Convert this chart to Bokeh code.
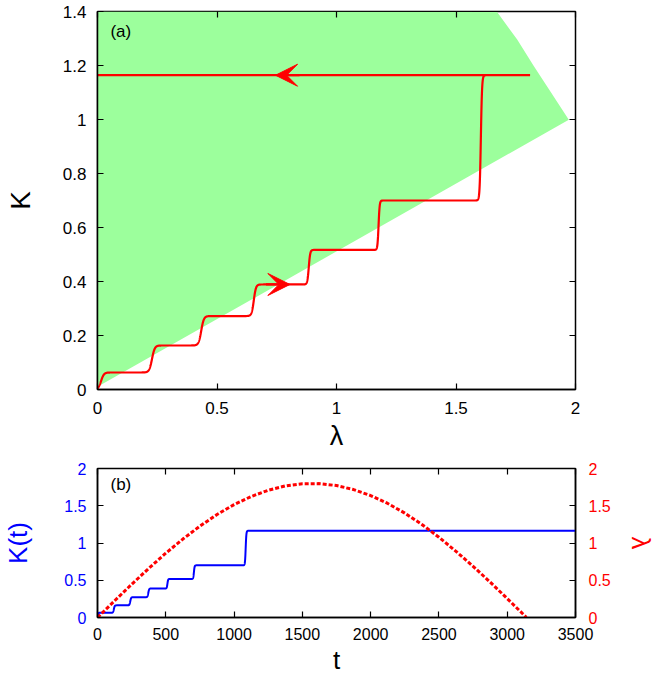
import math
import numpy as np
from bokeh.plotting import figure
from bokeh.models import Range1d, LinearAxis, FixedTicker, Label, Arrow, VeeHead
from bokeh.layouts import column
from bokeh.embed import file_html
from bokeh.resources import INLINE

# ---------------- data: panel (a) ----------------
region_lambda = [0.0, 0.0, 1.672, 1.756, 1.826, 1.895, 1.972, 0.0]
region_K = [0.01, 1.4, 1.398, 1.296, 1.197, 1.104, 0.999, 0.01]

step_lambda = [0.015, 0.228, 0.434, 0.654, 0.884, 1.176, 1.604]
step_K = [0.063, 0.163, 0.272, 0.389, 0.517, 0.700, 1.164]
step_width_lambda = [0.012, 0.0115, 0.011, 0.009, 0.006, 0.0046, 0.005]
lambda_max = 1.81

arrow_lambda = [0.805, 0.745]
arrow_K = [0.389, 1.164]
arrow_dir = [1, -1]

a_xticks = [0, 0.5, 1, 1.5, 2]
a_xlabels = ["0", "0.5", "1", "1.5", "2"]
a_yticks = [0, 0.2, 0.4, 0.6, 0.8, 1.0, 1.2, 1.4]
a_ylabels = ["0", "0.2", "0.4", "0.6", "0.8", "1", "1.2", "1.4"]

# ---------------- data: panel (b) ----------------
step_t = [3, 120, 240, 372, 512, 706, 1085]
step_width_t = [4, 6, 6, 6, 5, 5, 5]
t_end = 3500

lam_t = [0, 125, 250, 375, 500, 625, 750, 875, 1000, 1125, 1250, 1375, 1500,
         1625, 1750, 1875, 2000, 2125, 2250, 2375, 2500, 2625, 2750, 2875,
         3000, 3125, 3140]
lam_vals = [0.0, 0.224, 0.445, 0.659, 0.863, 1.053, 1.227, 1.382, 1.515,
            1.624, 1.708, 1.766, 1.796, 1.797, 1.771, 1.717, 1.637, 1.531,
            1.401, 1.249, 1.077, 0.888, 0.687, 0.475, 0.254, 0.030, 0.0]

b_xticks = [0, 500, 1000, 1500, 2000, 2500, 3000, 3500]
b_xlabels = ["0", "500", "1000", "1500", "2000", "2500", "3000", "3500"]
b_yticks = [0, 0.5, 1, 1.5, 2]
b_ylabels = ["0", "0.5", "1", "1.5", "2"]

FONT = "Liberation Sans"
RED = "#ff0000"
BLUE = "#0000ff"
GREEN = "#9cff9c"


def staircase(x, centers, levels, widths):
    y = np.zeros_like(x)
    prev = 0.0
    for c, lv, w in zip(centers, levels, widths):
        y += (lv - prev) * 0.5 * (1 + np.tanh((x - c) / w))
        prev = lv
    return y


def style_axis(ax, size="16px", color="black"):
    ax.major_tick_in = 6
    ax.major_tick_out = 0
    ax.minor_tick_line_color = None
    ax.major_tick_line_color = "black"
    ax.major_tick_line_width = 1.2
    ax.axis_line_color = "black"
    ax.axis_line_width = 1.5
    ax.major_label_text_font = FONT
    ax.major_label_text_font_size = size
    ax.major_label_text_color = color
    ax.axis_label_text_font = FONT
    ax.axis_label_text_font_style = "normal"
    ax.axis_label_text_color = color


def mirror_axis(ticks, **kw):
    ax = LinearAxis(ticker=FixedTicker(ticks=ticks), **kw)
    ax.major_tick_in = 6
    ax.major_tick_out = 0
    ax.minor_tick_line_color = None
    ax.major_tick_line_color = "black"
    ax.major_tick_line_width = 1.2
    ax.axis_line_color = None
    ax.major_label_text_font_size = "0px"
    ax.major_label_standoff = 0
    ax.major_label_overrides = {t: "" for t in ticks}
    return ax


# ---------------- panel (a) ----------------
p1 = figure(width=658, height=455, x_range=Range1d(0, 2), y_range=Range1d(0, 1.4),
            output_backend="svg", toolbar_location=None,
            min_border_left=97, min_border_right=83, min_border_top=11, min_border_bottom=66)
p1.grid.visible = False
p1.outline_line_color = "black"
p1.outline_line_width = 1.5
p1.outline_line_alpha = 1

p1.patch(region_lambda, region_K, fill_color=GREEN, line_color=None)

lam = np.linspace(0, lambda_max, 4000)
Kc = staircase(lam, step_lambda, step_K, step_width_lambda)
lam_path = np.concatenate([lam, [0.0]])
K_path = np.concatenate([Kc, [step_K[-1]]])
p1.line(lam_path, K_path, line_color=RED, line_width=2.2)

for xl, yl, d in zip(arrow_lambda, arrow_K, arrow_dir):
    p1.add_layout(Arrow(end=VeeHead(size=22, fill_color=RED, line_color=RED, line_width=1),
                        x_start=xl - d * 0.1, y_start=yl, x_end=xl, y_end=yl,
                        line_color=RED, line_width=2.2))

p1.xaxis.ticker = FixedTicker(ticks=a_xticks)
p1.xaxis.major_label_overrides = dict(zip(a_xticks, a_xlabels))
p1.yaxis.ticker = FixedTicker(ticks=a_yticks)
p1.yaxis.major_label_overrides = dict(zip(a_yticks, a_ylabels))
style_axis(p1.xaxis[0], "17px")
style_axis(p1.yaxis[0], "17px")
p1.xaxis.axis_label = "λ"
p1.yaxis.axis_label = "K"
p1.xaxis.axis_label_text_font_size = "27px"
p1.yaxis.axis_label_text_font_size = "28px"
p1.xaxis.major_label_standoff = 12
p1.yaxis.major_label_standoff = 11
p1.xaxis.axis_label_standoff = 4
p1.yaxis.axis_label_standoff = 24
p1.add_layout(mirror_axis(a_xticks), "above")
p1.add_layout(mirror_axis(a_yticks), "right")

p1.add_layout(Label(x=0.054, y=1.326, text="(a)", text_font=FONT, text_font_size="17px",
                    text_baseline="middle", text_color="black"))

# ---------------- panel (b) ----------------
p2 = figure(width=658, height=222, x_range=Range1d(0, t_end), y_range=Range1d(0, 2),
            output_backend="svg", toolbar_location=None,
            min_border_left=97, min_border_right=83, min_border_top=13, min_border_bottom=59)
p2.grid.visible = False
p2.outline_line_color = "black"
p2.outline_line_width = 1.5
p2.outline_line_alpha = 1
p2.extra_y_ranges = {"lam": Range1d(0, 2)}

tt = np.linspace(0, t_end, 5000)
Kt = staircase(tt, step_t, step_K, step_width_t)
p2.line(tt, Kt, line_color=BLUE, line_width=2)
p2.line(lam_t, lam_vals, y_range_name="lam", line_color=RED, line_width=3,
        line_dash="4 2")

p2.xaxis.ticker = FixedTicker(ticks=b_xticks)
p2.xaxis.major_label_overrides = dict(zip(b_xticks, b_xlabels))
p2.yaxis.ticker = FixedTicker(ticks=b_yticks)
p2.yaxis.major_label_overrides = dict(zip(b_yticks, b_ylabels))
style_axis(p2.xaxis[0], "16px")
style_axis(p2.yaxis[0], "16px", BLUE)
p2.xaxis.axis_label = "t"
p2.yaxis.axis_label = "K(t)"
p2.xaxis.axis_label_text_font_size = "26px"
p2.yaxis.axis_label_text_font_size = "26px"
p2.xaxis.major_label_standoff = 10
p2.yaxis.major_label_standoff = 11
p2.xaxis.axis_label_standoff = 2
p2.yaxis.axis_label_standoff = 28

rax = LinearAxis(y_range_name="lam", ticker=FixedTicker(ticks=b_yticks),
                 major_label_overrides=dict(zip(b_yticks, b_ylabels)))
style_axis(rax, "16px", RED)
rax.axis_label = "λ"
rax.axis_label_text_font_size = "26px"
rax.major_label_standoff = 13
rax.axis_label_standoff = 12
p2.add_layout(rax, "right")
p2.add_layout(mirror_axis(b_xticks), "above")

p2.add_layout(Label(x=95, y=1.78, text="(b)", text_font=FONT, text_font_size="17px",
                    text_baseline="middle", text_color="black"))

layout = column(p1, p2, spacing=0)
open("out.html", "w").write(file_html(layout, INLINE))
